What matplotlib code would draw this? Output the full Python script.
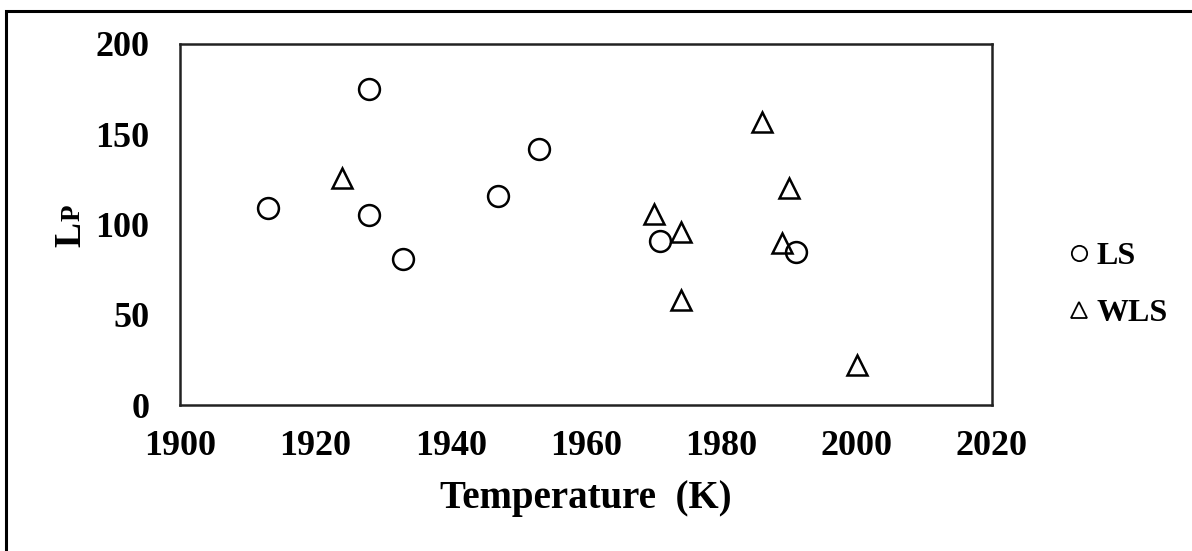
import matplotlib.pyplot as plt
from matplotlib.patches import Rectangle
from matplotlib.lines import Line2D

plt.rcParams['font.family'] = ['Liberation Serif', 'DejaVu Serif']
plt.rcParams['font.weight'] = 'bold'

# LS samples
ls_temp = [1913, 1928, 1928, 1933, 1947, 1953, 1971, 1991]
ls_lp = [109, 175, 105, 81, 116, 142, 91, 85]

# WLS samples
wls_temp = [1924, 1970, 1974, 1974, 1986, 1990, 1989, 2000]
wls_lp = [126, 106, 96, 58, 157, 120, 90, 22]

xticks = [1900, 1920, 1940, 1960, 1980, 2000, 2020]
yticks = [0, 50, 100, 150, 200]

fig = plt.figure(figsize=(11.92, 5.51), dpi=100)
ax = fig.add_axes([180 / 1192, 1 - 405 / 551, 812 / 1192, 361 / 551])

mk = dict(linestyle='none', markersize=15, markerfacecolor='none',
          markeredgecolor='black', markeredgewidth=1.8)
ax.plot(ls_temp, ls_lp, marker='o', label='LS', **mk)
ax.plot(wls_temp, wls_lp, marker='^', label='WLS', **mk)

ax.set_xlim(1900, 2020)
ax.set_ylim(0, 200)
ax.set_xticks(xticks)
ax.set_yticks(yticks)
ax.tick_params(length=0, labelsize=26)
ax.tick_params(axis='x', pad=18)
ax.tick_params(axis='y', pad=22)
for s in ax.spines.values():
    s.set_linewidth(1.8)
    s.set_color('#222222')

ax.set_xlabel('Temperature  (K)', fontsize=28, fontweight='bold', labelpad=12)

# y label: big L followed by a small-cap P on the same baseline
tL = fig.text(80 / 1192, 1 - 247 / 551, 'L', fontsize=27, fontweight='bold',
              rotation=90, rotation_mode='anchor', ha='left', va='baseline')
fig.canvas.draw()
bb = tL.get_window_extent()
fig.text(80 / 1192, (bb.y1 + 1) / 551, 'P', fontsize=19.5, fontweight='bold',
         rotation=90, rotation_mode='anchor', ha='left', va='baseline')

handles = [Line2D([], [], marker='o', linestyle='none', markersize=11,
                  markerfacecolor='none', markeredgecolor='black', markeredgewidth=1.3),
           Line2D([], [], marker='^', linestyle='none', markersize=11,
                  markerfacecolor='none', markeredgecolor='black', markeredgewidth=1.3)]
fig.legend(handles, ['LS', 'WLS'], loc='center left',
           bbox_to_anchor=(1069 / 1192, 1 - 285 / 551), frameon=False,
           fontsize=23, handlelength=0.6, handletextpad=0.25, labelspacing=0.85,
           borderaxespad=0, borderpad=0)

# outer frame, running past the right and bottom edges
fig.add_artist(Rectangle((6 / 1192, -0.1), 1.2, 1.1 - 11 / 551,
                         transform=fig.transFigure, fill=False,
                         edgecolor='black', linewidth=2.2))

fig.savefig('out.png', dpi=100)
